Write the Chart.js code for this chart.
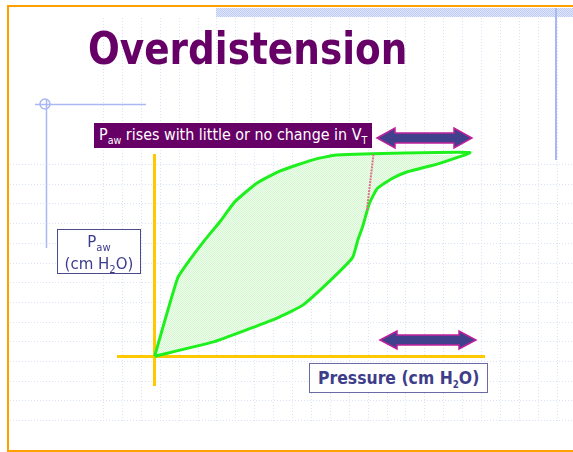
<!DOCTYPE html>
<html>
<head>
<meta charset="utf-8">
<script src="https://cdn.jsdelivr.net/npm/chart.js"></script>
<style>
  body { margin: 0; width: 573px; height: 452px; overflow: hidden; background: #fff; position: relative; font-family: "DejaVu Sans", sans-serif; }
  #pv { position: absolute; left: 0; top: 0; }
  .fit { display: inline-block; white-space: nowrap; transform-origin: 0 50%; }
  #title { position: absolute; left: 88px; top: 27px; font-size: 44px; line-height: 44px; font-weight: bold; color: #660066; }
  #note { position: absolute; left: 94px; top: 123px; width: 278px; height: 25px; background: #660066; }
  #noteText { position: absolute; left: 5px; top: 3px; color: #fff; font-size: 15px; line-height: 18px; }
  #noteText sub, .lbl sub { font-size: 10px; vertical-align: -4px; line-height: 0; }
  #yBox { position: absolute; left: 57px; top: 229px; width: 82px; height: 43px; border: 1px solid #4b4b8c; background: #fff; color: #3c3c8c; text-align: center; font-size: 15px; line-height: 19px; }
  #yBox div { margin-top: 3px; }
  #xBox { position: absolute; left: 309px; top: 363px; width: 177px; height: 28px; border: 1px solid #6a6aa6; background: #fff; }
  #xText { position: absolute; left: 8px; top: 4px; color: #3d3d8a; font-weight: bold; font-size: 18px; line-height: 20px; }
  svg { position: absolute; left: 0; top: 0; }
</style>
</head>
<body>
<canvas id="pv" width="573" height="452"></canvas>
<div id="title" class="fit">Overdistension</div>
<div id="note"><span id="noteText" class="fit lbl">P<sub>aw</sub> rises with little or no change in V<sub>T</sub></span></div>
<div id="yBox" class="lbl"><div>P<sub>aw</sub></div><div>(cm H<sub>2</sub>O)</div></div>
<div id="xBox"><span id="xText" class="fit lbl">Pressure (cm H<sub>2</sub>O)</span></div>
<svg width="573" height="452">
  <polygon points="377,138 395,128 395,133 454,133 454,128 472,138 454,148 454,143 395,143 395,148" fill="#40408c" stroke="#c0209c" stroke-width="1.5"/>
  <polygon points="380,340 397,331 397,335 459,335 459,331 476,340 459,349 459,345 397,345 397,349" fill="#40408c" stroke="#c0209c" stroke-width="1.5"/>
</svg>
<script>
// inflation limb (origin -> plateau)
const upX = [0, 6.3, 9.6, 13.7, 17.8, 21.9, 27.9, 34.2, 43.2, 49.7, 86.1];
const upY = [0, 27.2, 33.5, 40.4, 46.7, 53.7, 60.2, 64.4, 68.3, 70.0, 70.9];
// deflation limb (plateau -> origin)
const downX = [77.9, 68.9, 65.0, 60.9, 58.7, 56.8, 55.5, 54.1, 48.6, 40.4, 33.3, 15.8, 0];
const downY = [67.1, 64.1, 61.9, 58.4, 53.2, 44.9, 40.3, 34.4, 27.1, 17.7, 13.2, 4.9, 0];
// pink trace of the normal curve
const traceX = [59.8, 58.0];
const traceY = [70.2, 50.8];

const pts = (xs, ys) => xs.map((x, i) => ({ x: x, y: ys[i] }));

function makePattern(a, b) {
    const c = document.createElement('canvas');
    c.width = 2; c.height = 2;
    const g = c.getContext('2d');
    g.fillStyle = a; g.fillRect(0, 0, 2, 2);
    g.fillStyle = b; g.fillRect(0, 0, 1, 1); g.fillRect(1, 1, 1, 1);
    return g.createPattern(c, 'repeat');
}

const slideBg = {
    id: 'slideBg',
    beforeDraw(chart) {
        const ctx = chart.ctx;
        ctx.save();
        // dotted background grid
        ctx.strokeStyle = '#d9e2f6';
        ctx.lineWidth = 1;
        ctx.setLineDash([1, 2]);
        for (let k = 0; k <= 24; k++) {
            const x = Math.round(103 + k * 18.9) + 0.5;
            ctx.beginPath(); ctx.moveTo(x, 18); ctx.lineTo(x, 422); ctx.stroke();
        }
        for (let k = 0; k <= 13; k++) {
            const y = Math.round(164 + k * 19.7) + 0.5;
            ctx.beginPath(); ctx.moveTo(10, y); ctx.lineTo(573, y); ctx.stroke();
        }
        ctx.setLineDash([]);
        // top blue band
        ctx.fillStyle = makePattern('#dfe6fb', '#bfcdf4');
        ctx.fillRect(216, 8, 357, 9);
        // blue lines
        ctx.strokeStyle = '#a9b7f2';
        ctx.lineWidth = 2;
        ctx.beginPath(); ctx.moveTo(556, 8); ctx.lineTo(556, 160); ctx.stroke();
        ctx.lineWidth = 1.5;
        ctx.beginPath(); ctx.moveTo(35, 104.5); ctx.lineTo(146, 104.5); ctx.stroke();
        ctx.beginPath(); ctx.moveTo(46.5, 100); ctx.lineTo(46.5, 248); ctx.stroke();
        ctx.beginPath(); ctx.arc(45, 104, 5, 0, Math.PI * 2); ctx.stroke();
        // orange frame
        ctx.fillStyle = '#ffa000';
        ctx.fillRect(7, 5, 566, 2);
        ctx.fillRect(7, 5, 2, 447);
        ctx.fillRect(7, 450, 566, 2);
        ctx.restore();
    }
};

new Chart(document.getElementById('pv'), {
    type: 'line',
    data: {
        datasets: [{
            data: pts(upX, upY).concat(pts(downX, downY)),
            borderColor: '#1ef01e',
            borderWidth: 3,
            backgroundColor: makePattern('#eefeec', '#d6f6d2'),
            fill: 'shape',
            tension: 0.15,
            pointRadius: 0,
            clip: false,
            order: 2
        }, {
            data: pts(traceX, traceY),
            borderColor: '#e07088',
            borderWidth: 2,
            borderDash: [2, 1],
            fill: false,
            pointRadius: 0,
            clip: false,
            order: 1
        }]
    },
    options: {
        responsive: false,
        animation: false,
        layout: { padding: { left: 118, right: 89, top: 155, bottom: 67 } },
        plugins: { legend: { display: false }, tooltip: { enabled: false } },
        scales: {
            x: {
                type: 'linear', min: -10, max: 90, position: { y: 0 },
                ticks: { display: false },
                grid: { display: false, drawTicks: false },
                border: { display: true, color: '#ffc800', width: 3 }
            },
            y: {
                type: 'linear', min: -10, max: 70, position: { x: 0 },
                ticks: { display: false },
                grid: { display: false, drawTicks: false },
                border: { display: true, color: '#ffc800', width: 3 }
            }
        }
    },
    plugins: [slideBg]
});

function fitText(id, w) {
    const el = document.getElementById(id);
    el.style.transform = 'scaleX(' + (w / el.offsetWidth) + ')';
}
fitText('title', 319);
fitText('noteText', 268);
fitText('xText', 161);
</script>
</body>
</html>
